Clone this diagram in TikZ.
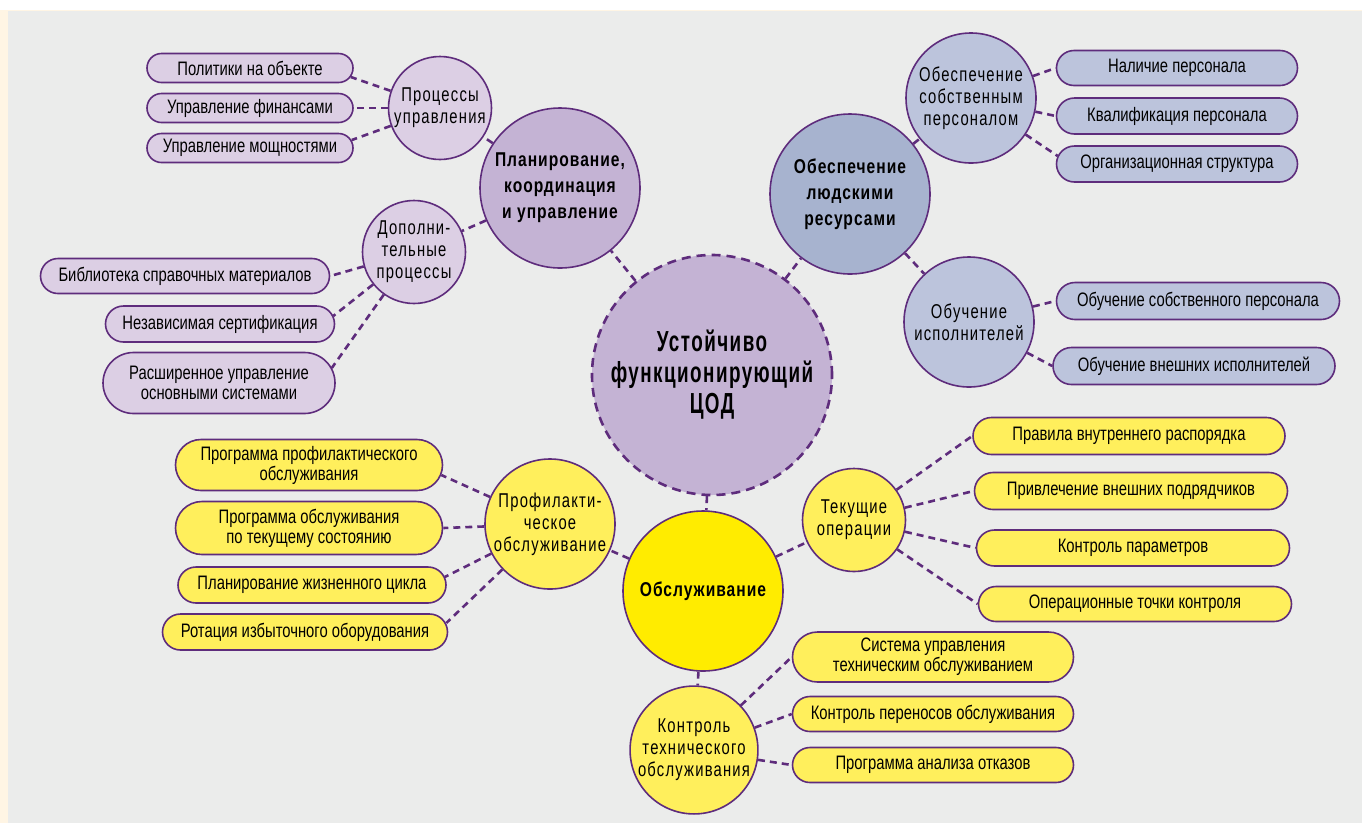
\documentclass[tikz,border=0pt]{standalone}
\usepackage{fontspec}
\setmainfont{Liberation Sans}[FakeStretch=0.76]
\newfontfamily\ringfont{Liberation Sans}[FakeStretch=0.74,LetterSpace=6]
\newfontfamily\hubfont{Liberation Sans}[FakeStretch=0.78,LetterSpace=5]
\newfontfamily\corefont{Liberation Sans}[FakeStretch=0.65,LetterSpace=5]
\usetikzlibrary{shapes.misc}
\definecolor{bggray}{HTML}{EBECEB}
\definecolor{cream}{HTML}{FFF5E4}
\definecolor{plum}{HTML}{5E2C7C}
\definecolor{lilac}{HTML}{C4B3D4}
\definecolor{lilaclt}{HTML}{DCCFE4}
\definecolor{steel}{HTML}{A7B3CF}
\definecolor{steellt}{HTML}{BCC4DC}
\definecolor{yel}{HTML}{FFEC00}
\definecolor{yellt}{HTML}{FFEF5C}

\begin{document}
\begin{tikzpicture}[x=1pt,y=-1pt,
  hub/.style={circle,draw=plum,line width=1.6pt,inner sep=0pt,align=center,
    font=\hubfont\bfseries\fontsize{20}{26}\selectfont,minimum size=160pt},
  sub/.style={circle,draw=plum,line width=1.6pt,inner sep=0pt,align=center,
    font=\ringfont\fontsize{20}{22}\selectfont},
  leaf/.style={rounded rectangle,draw=plum,line width=1.6pt,inner sep=0pt,align=center,
    font=\fontsize{19.5}{20}\selectfont},
  link/.style={draw=plum,line width=2.6pt,dash pattern=on 7pt off 5pt}]
  \useasboundingbox (0,0) rectangle (1362,823);
  \fill[white] (0,0) rectangle (1362,823);
  \fill[cream] (0,10) rectangle (1362,823);
  \fill[bggray] (8,11) rectangle (1362,823);

  \node[hub,fill=lilac,minimum size=240pt,line width=2.6pt,dash pattern=on 9pt off 6pt,
    font=\corefont\bfseries\fontsize{29}{31}\selectfont] (c0) at (712,375) {Устойчиво\\функционирующий\\ЦОД};
  \node[hub,fill=lilac] (m1) at (560,188) {Планирование,\\координация\\и управление};
  \node[hub,fill=steel] (m2) at (850,194) {Обеспечение\\людскими\\ресурсами};
  \node[hub,fill=yel] (m3) at (703,591) {Обслуживание};

  \node[sub,fill=lilaclt,minimum size=103pt] (s1) at (440,108) {Процессы\\управления};
  \node[sub,fill=lilaclt,minimum size=103pt] (s2) at (414,252) {Дополни-\\тельные\\процессы};
  \node[sub,fill=steellt,minimum size=130pt] (s3) at (971,98) {Обеспечение\\собственным\\персоналом};
  \node[sub,fill=steellt,minimum size=130pt] (s4) at (969,322) {Обучение\\исполнителей};
  \node[sub,fill=yellt,minimum size=130pt] (s5) at (550,524) {Профилакти-\\ческое\\обслуживание};
  \node[sub,fill=yellt,minimum size=103pt] (s6) at (854,520) {Текущие\\операции};
  \node[sub,fill=yellt,minimum size=125pt] (s7) at (694,750) {Контроль\\технического\\обслуживания};

  \node[leaf,fill=lilaclt,minimum width=206pt,minimum height=29pt] (l1) at (250,68) {Политики на объекте};
  \node[leaf,fill=lilaclt,minimum width=206pt,minimum height=29pt] (l2) at (250,108) {Управление финансами};
  \node[leaf,fill=lilaclt,minimum width=206pt,minimum height=29pt] (l3) at (250,148) {Управление мощностями};
  \node[leaf,fill=lilaclt,minimum width=289pt,minimum height=35pt] (l4) at (185,276) {Библиотека справочных материалов};
  \node[leaf,fill=lilaclt,minimum width=229pt,minimum height=36pt] (l5) at (220,324) {Независимая сертификация};
  \node[leaf,fill=lilaclt,minimum width=232pt,minimum height=61pt] (l6) at (219,383) {Расширенное управление\\основными системами};

  \node[leaf,fill=steellt,minimum width=241pt,minimum height=35pt] (l7) at (1177,68) {Наличие персонала};
  \node[leaf,fill=steellt,minimum width=241pt,minimum height=36pt] (l8) at (1177,116) {Квалификация персонала};
  \node[leaf,fill=steellt,minimum width=241pt,minimum height=36pt] (l9) at (1177,164) {Организационная структура};
  \node[leaf,fill=steellt,minimum width=283pt,minimum height=37pt] (l10) at (1198,301) {Обучение собственного персонала};
  \node[leaf,fill=steellt,minimum width=282pt,minimum height=37pt] (l11) at (1194,366) {Обучение внешних исполнителей};

  \node[leaf,fill=yellt,minimum width=267pt,minimum height=51pt] (l12) at (309,465) {Программа профилактического\\обслуживания};
  \node[leaf,fill=yellt,minimum width=267pt,minimum height=53pt] (l13) at (309,528) {Программа обслуживания\\по текущему состоянию};
  \node[leaf,fill=yellt,minimum width=268pt,minimum height=36pt] (l14) at (312,585) {Планирование жизненного цикла};
  \node[leaf,fill=yellt,minimum width=285pt,minimum height=36pt] (l15) at (305,632) {Ротация избыточного оборудования};
  \node[leaf,fill=yellt,minimum width=312pt,minimum height=37pt] (l16) at (1129,436) {Правила внутреннего распорядка};
  \node[leaf,fill=yellt,minimum width=313pt,minimum height=37pt] (l17) at (1131,491) {Привлечение внешних подрядчиков};
  \node[leaf,fill=yellt,minimum width=313pt,minimum height=36pt] (l18) at (1133,548) {Контроль параметров};
  \node[leaf,fill=yellt,minimum width=313pt,minimum height=35pt] (l19) at (1135,604) {Операционные точки контроля};
  \node[leaf,fill=yellt,minimum width=281pt,minimum height=50pt] (l20) at (933,657) {Система управления\\техническим обслуживанием};
  \node[leaf,fill=yellt,minimum width=281pt,minimum height=35pt] (l21) at (933,714) {Контроль переносов обслуживания};
  \node[leaf,fill=yellt,minimum width=281pt,minimum height=35pt] (l22) at (933,765) {Программа анализа отказов};

  \draw[link] (c0) edge (m1) edge (m2) edge (m3);
  \draw[link] (m1) edge (s1) edge (s2);
  \draw[link] (m2) edge (s3) edge (s4);
  \draw[link] (m3) edge (s5) edge (s6) edge (s7);
  \draw[link] (s1) edge ([xshift=-3pt,yshift=-9pt]l1.east) edge (l2.east) edge ([xshift=-2pt,yshift=8pt]l3.east);
  \draw[link] (s2) edge (l4.east) edge ([xshift=-2pt,yshift=8pt]l5.east) edge ([xshift=-4pt,yshift=15pt]l6.east);
  \draw[link] (s3) edge (l7.west) edge (l8.west) edge ([xshift=2pt,yshift=8pt]l9.west);
  \draw[link] (s4) edge (l10.west) edge (l11.west);
  \draw[link] (s5) edge ([xshift=-2pt,yshift=-10pt]l12.east) edge (l13.east)
    edge ([xshift=-2pt,yshift=8pt]l14.east) edge ([xshift=-2pt,yshift=9pt]l15.east);
  \draw[link] (s6) edge (l16.west) edge (l17.west) edge (l18.west) edge (l19.west);
  \draw[link] (s7) edge (l20.west) edge (l21.west) edge (l22.west);
\end{tikzpicture}
\end{document}
